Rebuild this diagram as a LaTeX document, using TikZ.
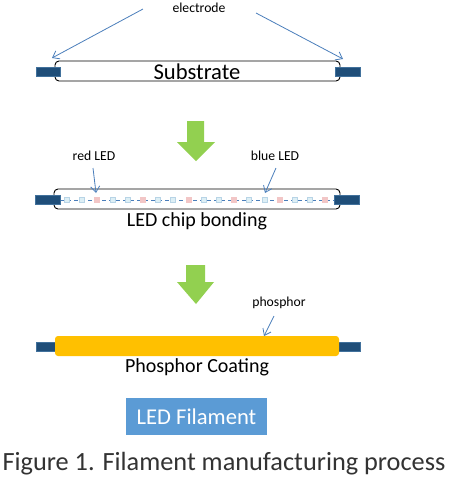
\documentclass[tikz,border=0pt]{standalone}
\usepackage{fontspec}
\setmainfont{Carlito}
\usetikzlibrary{arrows.meta}
\definecolor{elec}{HTML}{1F4E79}
\definecolor{elecedge}{HTML}{41719C}
\definecolor{pointer}{HTML}{4A7EBB}
\definecolor{procgreen}{HTML}{92D050}
\definecolor{phos}{HTML}{FFC000}
\definecolor{filblue}{HTML}{5B9BD5}
\definecolor{ledred}{HTML}{F2C6C6}
\definecolor{ledblue}{HTML}{DDEFF5}
\definecolor{ledblueedge}{HTML}{B8D4E6}
\tikzset{
  tube/.style={draw=black, line width=0.9pt, rounded corners=4pt, fill=white, inner sep=0pt},
  elecbox/.style={draw=elecedge, line width=0.6pt, fill=elec, inner sep=0pt},
  pointerarrow/.style={draw=pointer, line width=0.8pt, -{Straight Barb[length=6pt,width=9pt]}},
  smalltext/.style={font=\fontsize{13.7}{16}\selectfont, inner sep=0pt, anchor=base},
  midtext/.style={font=\fontsize{20}{24}\selectfont, inner sep=0pt, anchor=base},
  bigtext/.style={font=\fontsize{22.6}{27}\selectfont, inner sep=0pt, anchor=base},
  chipblue/.style={fill=ledblue, draw=ledblueedge, line width=0.4pt, minimum size=5pt, inner sep=0pt},
  chipred/.style={fill=ledred, draw=ledred, line width=0.4pt, minimum size=5pt, inner sep=0pt},
  procarrow/.style={fill=procgreen, draw=none}
}
\begin{document}
\begin{tikzpicture}[x=1pt,y=-1pt]
\useasboundingbox[fill=white] (0,0) rectangle (450,480);

% ---------- Stage 1: substrate ----------
\node[tube, minimum width=285pt, minimum height=20pt] (sub) at (197.5,71) {};
\node[elecbox, minimum width=24pt, minimum height=9pt] (el1) at (48,71.5) {};
\node[elecbox, minimum width=25pt, minimum height=9pt] (er1) at (347.5,71.5) {};
\node[bigtext] (subtxt) at (197,79) {Substrate};
\node[smalltext] (electxt) at (199,12) {electrode};
\coordinate (ea1) at (143,9);
\coordinate (eb1) at (52,58);
\coordinate (ea2) at (256,13);
\coordinate (eb2) at (343,59);
\draw[pointerarrow] (ea1) -- (eb1);
\draw[pointerarrow] (ea2) -- (eb2);

% ---------- green arrow 1 ----------
\fill[procarrow] (187,121) -- (204,121) -- (204,142) -- (215,142) -- (196,161) -- (177,142) -- (187,142) -- cycle;

% ---------- Stage 2: LED chip bonding ----------
\node[tube, minimum width=286pt, minimum height=20pt] (sub2) at (197,199) {};
\coordinate (dl) at (60,200);
\coordinate (dr) at (334,200);
\draw[pointer, line width=0.8pt, dash pattern=on 4pt off 3pt] (dl) -- (dr);
\foreach \i in {0,...,17}{
  \pgfmathtruncatemacro{\m}{mod(\i,3)}
  \ifnum\m=2
    \node[chipred] (chip\i) at (66.7+15.2*\i,200) {};
  \else
    \node[chipblue] (chip\i) at (66.7+15.2*\i,200) {};
  \fi
}
\node[elecbox, minimum width=25pt, minimum height=9pt] (el2) at (47.5,199.5) {};
\node[elecbox, minimum width=25pt, minimum height=9pt] (er2) at (346.5,199.5) {};
\node[smalltext] (redtxt) at (94,160.5) {red LED};
\node[smalltext] (bluetxt) at (275,160.5) {blue LED};
\coordinate (ra) at (93,168);
\coordinate (rb) at (96,193);
\coordinate (ba) at (276,168);
\coordinate (bb) at (265,193);
\draw[pointerarrow] (ra) -- (rb);
\draw[pointerarrow] (ba) -- (bb);
\node[midtext] (bondtxt) at (197,226.5) {LED chip bonding};

% ---------- green arrow 2 ----------
\fill[procarrow] (186,265) -- (205,265) -- (205,282) -- (214,282) -- (196,304) -- (177,282) -- (186,282) -- cycle;

% ---------- Stage 3: phosphor coating ----------
\node[elecbox, minimum width=21pt, minimum height=9pt] (el3) at (46.5,346.5) {};
\node[elecbox, minimum width=22pt, minimum height=9pt] (er3) at (349,346.5) {};
\node[fill=phos, rounded corners=3pt, minimum width=284pt, minimum height=20pt, inner sep=0pt] (phosbar) at (197,346) {};
\node[smalltext] (phostxt) at (279,306.5) {phosphor};
\coordinate (pa) at (274,316);
\coordinate (pb) at (264,336);
\draw[pointerarrow] (pa) -- (pb);
\node[midtext] (coattxt) at (197,372) {Phosphor Coating};

% ---------- LED Filament ----------
\node[fill=filblue, minimum width=141pt, minimum height=37pt, inner sep=0pt] (filbox) at (196.5,416.5) {};
\node[bigtext, text=white] (filtxt) at (196.5,424) {LED Filament};

% ---------- caption ----------
\node[font=\fontsize{26.3}{31}\selectfont, inner sep=0pt, anchor=base, text=black!80] (caption) at (224,470) {Figure 1. Filament manufacturing process};
\end{tikzpicture}
\end{document}
